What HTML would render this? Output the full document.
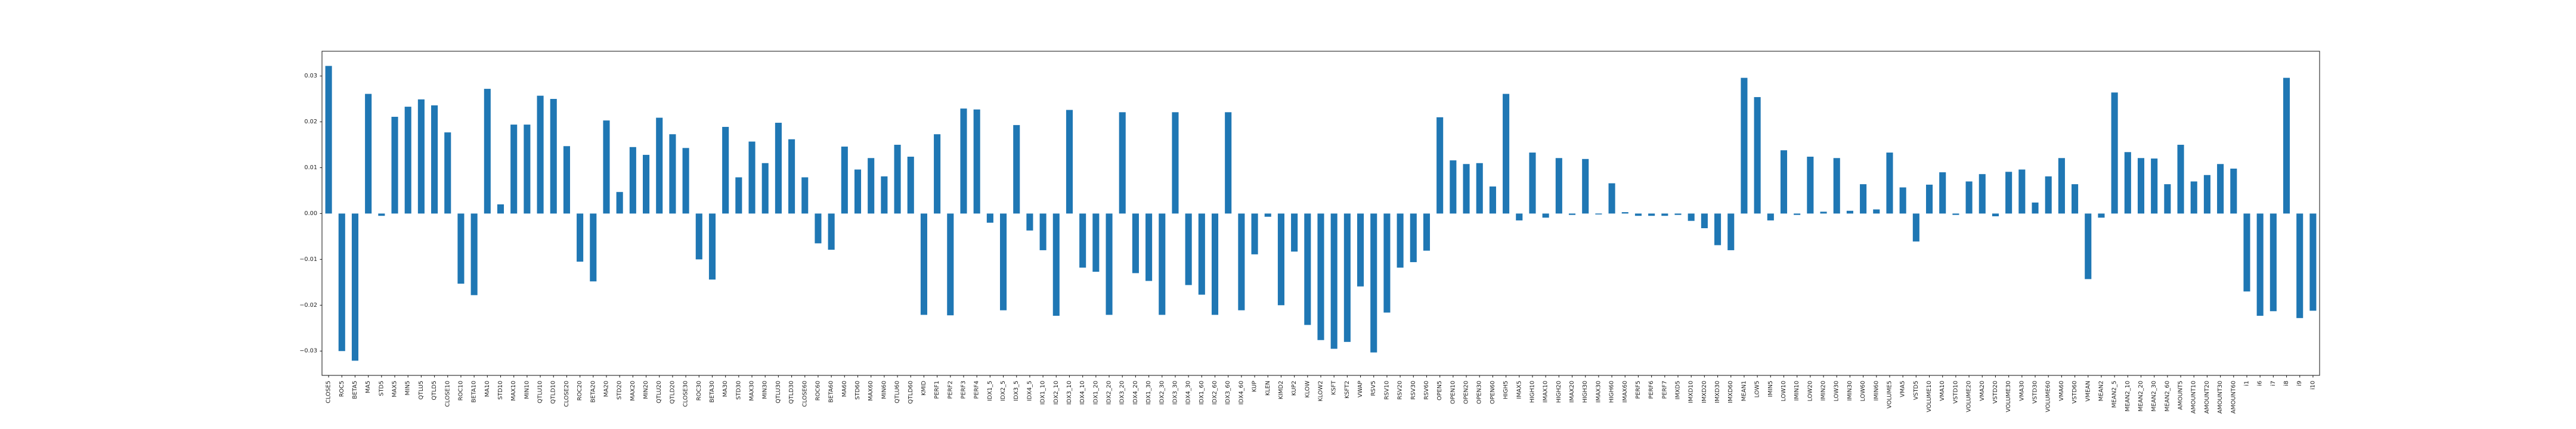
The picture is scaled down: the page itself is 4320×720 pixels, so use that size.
<!DOCTYPE html>
<html><head><meta charset="utf-8"><style>
html,body{margin:0;padding:0;background:#fff;}
svg{display:block;font-family:"DejaVu Sans","Liberation Sans",sans-serif;}
</style></head><body>
<svg id="chart" width="4320" height="720" viewBox="0 0 4320 720" xmlns="http://www.w3.org/2000/svg">
<rect width="4320" height="720" fill="#fff"/>
<g id="bars"></g>
<g id="xaxis"></g>
<g id="yaxis"></g>
<rect x="540" y="86" width="3350" height="544" fill="none" stroke="#222" stroke-width="1.1"/>
</svg>
<script>
const categories = ["CLOSE5","ROC5","BETA5","MA5","STD5","MAX5","MIN5","QTLU5","QTLD5","CLOSE10","ROC10","BETA10","MA10","STD10","MAX10","MIN10","QTLU10","QTLD10","CLOSE20","ROC20","BETA20","MA20","STD20","MAX20","MIN20","QTLU20","QTLD20","CLOSE30","ROC30","BETA30","MA30","STD30","MAX30","MIN30","QTLU30","QTLD30","CLOSE60",
"ROC60","BETA60","MA60","STD60","MAX60","MIN60","QTLU60","QTLD60","KMID","PERF1","PERF2","PERF3","PERF4","IDX1_5","IDX2_5","IDX3_5","IDX4_5","IDX1_10","IDX2_10","IDX3_10","IDX4_10","IDX1_20","IDX2_20","IDX3_20","IDX4_20","IDX1_30","IDX2_30","IDX3_30","IDX4_30","IDX1_60","IDX2_60","IDX3_60","IDX4_60","KUP","KLEN","KIMD2","KUP2","KLOW",
"KLOW2","KSFT","KSFT2","VWAP","RSV5","RSV10","RSV20","RSV30","RSV60","OPEN5","OPEN10","OPEN20","OPEN30","OPEN60","HIGH5","IMAX5","HIGH10","IMAX10","HIGH20","IMAX20","HIGH30","IMAX30","HIGH60","IMAX60","PERF5","PERF6","PERF7","IMXD5","IMXD10","IMXD20","IMXD30","IMXD60","MEAN1","LOW5","IMIN5","LOW10","IMIN10","LOW20",
"IMIN20","LOW30","IMIN30","LOW60","IMIN60","VOLUME5","VMA5","VSTD5","VOLUME10","VMA10","VSTD10","VOLUME20","VMA20","VSTD20","VOLUME30","VMA30","VSTD30","VOLUME60","VMA60","VSTD60","VMEAN","MEAN2","MEAN2_5","MEAN2_10","MEAN2_20","MEAN2_30","MEAN2_60","AMOUNT5","AMOUNT10","AMOUNT20","AMOUNT30","AMOUNT60","i1","i6","i7","i8","i9","i10"];
const values = [0.0322,-0.0300,-0.0321,0.0261,-0.0005,0.0211,0.0233,0.0249,0.0236,0.0177,-0.0153,-0.0178,0.0272,0.0020,0.0194,0.0194,0.0257,0.0250,0.0147,-0.0105,-0.0148,0.0203,0.0047,0.0145,0.0128,0.0209,0.0173,0.0143,-0.0100,-0.0144,0.0189,0.0079,0.0157,0.0110,0.0198,0.0162,0.0079,
-0.0065,-0.0079,0.0146,0.0096,0.0121,0.0081,0.0150,0.0124,-0.0221,0.0173,-0.0222,0.0229,0.0227,-0.0020,-0.0211,0.0193,-0.0037,-0.0080,-0.0223,0.0226,-0.0118,-0.0127,-0.0221,0.0221,-0.0130,-0.0147,-0.0221,0.0221,-0.0156,-0.0177,-0.0221,0.0221,-0.0211,-0.0089,-0.0007,-0.0200,-0.0083,-0.0243,
-0.0276,-0.0295,-0.0280,-0.0159,-0.0303,-0.0216,-0.0118,-0.0106,-0.0081,0.0210,0.0116,0.0108,0.0110,0.0059,0.0261,-0.0015,0.0133,-0.0009,0.0121,-0.0003,0.0119,-0.0002,0.0066,0.0003,-0.0005,-0.0005,-0.0005,-0.0003,-0.0016,-0.0032,-0.0069,-0.0080,0.0296,0.0254,-0.0015,0.0138,-0.0003,0.0124,
0.0004,0.0121,0.0006,0.0064,0.0009,0.0133,0.0057,-0.0061,0.0063,0.0090,-0.0003,0.0070,0.0086,-0.0006,0.0091,0.0096,0.0024,0.0081,0.0121,0.0064,-0.0143,-0.0009,0.0264,0.0134,0.0121,0.0120,0.0064,0.0150,0.0070,0.0084,0.0108,0.0098,-0.0170,-0.0223,-0.0213,0.0296,-0.0228,-0.0212];
const yTicks = [-0.03,-0.02,-0.01,0.00,0.01,0.02,0.03];
const yTickLabels = ["\u22120.03","\u22120.02","\u22120.01","0.00","0.01","0.02","0.03"];

const NS="http://www.w3.org/2000/svg";
const L=540,R=3890,T=86,B=630,yMin=-0.0353,yMax=0.0354;
const n=categories.length, step=(R-L)/n;
function xPos(i){return L+step*(i+0.5);}
function yPos(v){return T+(yMax-v)/(yMax-yMin)*(B-T);}
function mk(tag,attrs){const e=document.createElementNS(NS,tag);for(const k in attrs)e.setAttribute(k,attrs[k]);return e;}
const gb=document.getElementById('bars'),gx=document.getElementById('xaxis'),gy=document.getElementById('yaxis');
const bw=step*0.5;
for(let i=0;i<n;i++){
  const v=values[i],y0=yPos(0),y1=yPos(v);
  const r=mk('rect',{x:xPos(i)-bw/2,y:Math.min(y0,y1),width:bw,height:Math.abs(y1-y0),fill:'#1f77b4'});
  
  
  gb.appendChild(r);
  const t=mk('line',{x1:xPos(i),x2:xPos(i),y1:B,y2:B+3.5,stroke:'#222','stroke-width':1.1});
  
  
  gx.appendChild(t);
  const lb=mk('text',{x:0,y:0,'font-size':'9.7','fill':'#222','text-anchor':'end','dominant-baseline':'central',transform:'translate('+xPos(i)+','+(B+9)+') rotate(-90)'});
  lb.textContent=categories[i];
  
  
  gx.appendChild(lb);
}
for(let j=0;j<yTicks.length;j++){
  const y=yPos(yTicks[j]);
  const t=mk('line',{x1:L-3.5,x2:L,y1:y,y2:y,stroke:'#222','stroke-width':1.1});
  
  
  gy.appendChild(t);
  const lb=mk('text',{x:L-8,y:y,'font-size':'9.7','fill':'#222','text-anchor':'end','dominant-baseline':'central'});
  lb.textContent=yTickLabels[j];
  
  
  gy.appendChild(lb);
}
</script>
</body></html>
